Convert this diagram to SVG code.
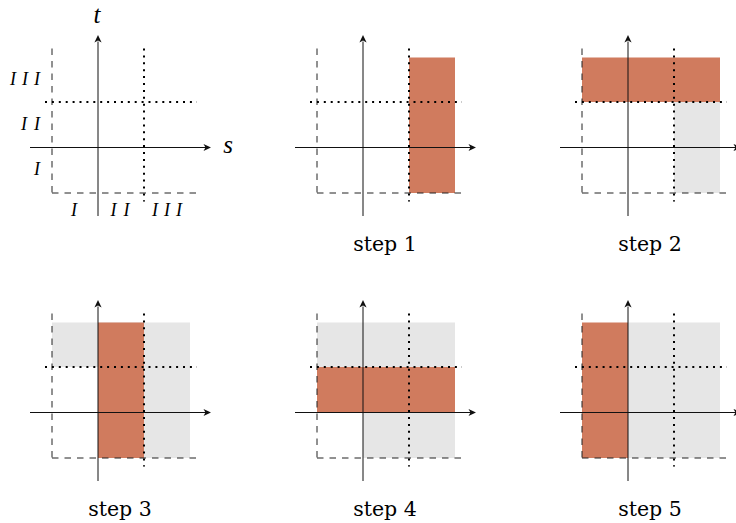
<svg xmlns="http://www.w3.org/2000/svg" xmlns:xlink="http://www.w3.org/1999/xlink" width="736" height="523" viewBox="0 0 736 523">
<style>
.dash{fill:none;stroke:#222;stroke-width:1;stroke-dasharray:6.5 6}
.dot{fill:none;stroke:#000;stroke-width:2;stroke-linecap:butt;stroke-dasharray:2 4.9}
.axis{fill:none;stroke:#111;stroke-width:1}
.head{fill:#111}
.or{fill:#D07B5E}
.gr{fill:#E6E6E6}
.math{font-family:"Liberation Serif",serif;font-style:italic;fill:#000}
.step{font-family:"DejaVu Serif","Liberation Serif",serif;font-size:20.5px;fill:#000;text-anchor:middle}
</style>
<defs>
<g id="grid">
<path class="dash" d="M-46,-99 V45.5 M-46,45.5 H98"/>
<path class="dot" d="M46,-99 V54 M-53,-45.5 H99"/>
<path class="axis" d="M-68,0 H109 M0,68.5 V-106"/>
<path class="head" d="M113,0 L105.5,-3.6 L107.5,0 L105.5,3.6 Z"/>
<path class="head" d="M0,-112.5 L-3.6,-105 L0,-107 L3.6,-105 Z"/>
</g>
</defs>
<g id="connectors"/>
<g id="panel-axes" transform="translate(98,147.5)">
<use xlink:href="#grid" href="#grid"/>
</g>
<g id="axis-labels">
<text class="math" x="97" y="23" font-size="25" text-anchor="middle">t</text>
<text class="math" x="228" y="153" font-size="25" text-anchor="middle">s</text>
<text class="math" x="40" y="85" font-size="18" text-anchor="end" textLength="30" lengthAdjust="spacing">III</text>
<text class="math" x="40" y="130" font-size="18" text-anchor="end" textLength="19" lengthAdjust="spacing">II</text>
<text class="math" x="40" y="175" font-size="18" text-anchor="end">I</text>
<text class="math" x="74" y="216" font-size="18" text-anchor="middle">I</text>
<text class="math" x="120" y="216" font-size="18" text-anchor="middle" textLength="19" lengthAdjust="spacing">II</text>
<text class="math" x="167" y="216" font-size="18" text-anchor="middle" textLength="30" lengthAdjust="spacing">III</text>
</g>
<g id="panel-step1" transform="translate(363,147.5)">
<rect class="or" x="46" y="-90" width="46" height="135.5"/>
<use xlink:href="#grid" href="#grid"/>
<text class="step" x="22" y="103">step 1</text>
</g>
<g id="panel-step2" transform="translate(628,147.5)">
<rect class="or" x="-46" y="-90" width="138" height="44.5"/>
<rect class="gr" x="46" y="-45.5" width="46" height="91"/>
<use xlink:href="#grid" href="#grid"/>
<text class="step" x="22" y="103">step 2</text>
</g>
<g id="panel-step3" transform="translate(98,412.5)">
<rect class="gr" x="-46" y="-90" width="138" height="44.5"/>
<rect class="gr" x="46" y="-45.5" width="46" height="91"/>
<rect class="or" x="0" y="-90" width="46" height="135.5"/>
<use xlink:href="#grid" href="#grid"/>
<text class="step" x="22" y="103">step 3</text>
</g>
<g id="panel-step4" transform="translate(363,412.5)">
<rect class="gr" x="-46" y="-90" width="138" height="44.5"/>
<rect class="gr" x="0" y="0" width="92" height="45.5"/>
<rect class="or" x="-46" y="-45.5" width="138" height="45.5"/>
<use xlink:href="#grid" href="#grid"/>
<text class="step" x="22" y="103">step 4</text>
</g>
<g id="panel-step5" transform="translate(628,412.5)">
<rect class="gr" x="0" y="-90" width="92" height="135.5"/>
<rect class="or" x="-46" y="-90" width="46" height="135.5"/>
<use xlink:href="#grid" href="#grid"/>
<text class="step" x="22" y="103">step 5</text>
</g>
</svg>
